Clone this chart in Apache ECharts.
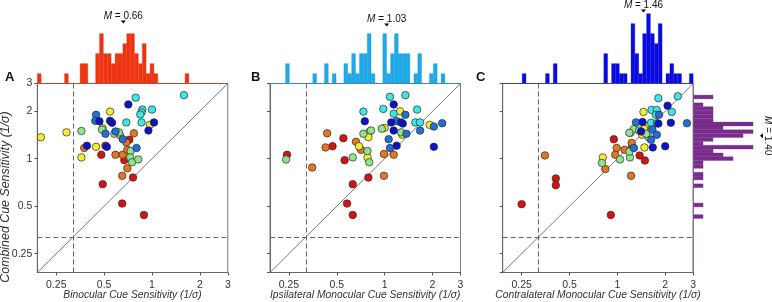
<!DOCTYPE html>
<html><head><meta charset="utf-8">
<script src="https://cdn.jsdelivr.net/npm/echarts@6/dist/echarts.min.js"></script>
<style>html,body{margin:0;padding:0;background:#fff}#c{width:772px;height:302px}</style>
</head><body><div id="c"></div>
<script>
// ---------- data ----------
const tickLabels = [0.25, 0.5, 1, 2, 3];
const axisMin = 0.19, axisMax = 3;
const chanceLevel = 0.32;
const groupColors = ['#d41414', '#e8761e', '#f4ee2e', '#92e38e', '#3ee6e6', '#2070d6', '#0c12c8'];

// Panel A: binocular (x) vs combined (y)
const binoRed = [[0.72,1.32],[0.51,1.21],[0.48,1.06],[0.67,0.98],[0.76,0.76],[0.49,0.69],[0.65,0.52],[0.89,0.44]];
const binoOrange = [[0.375,1.17],[0.59,1.06],[0.655,1.06],[0.70,1.14],[0.70,0.87],[0.65,0.78],[0.69,1.27],[0.77,1.45]];
const binoYellow = [[0.20,1.37],[0.29,1.47],[0.545,1.99],[0.36,1.02],[0.445,1.19],[0.49,1.56],[0.63,1.41],[0.97,1.64]];
const binoGreen = [[0.36,1.50],[0.485,1.53],[0.58,1.44],[0.62,1.47],[0.735,1.12],[0.73,1.02],[0.75,0.95],[0.82,0.99]];
const binoCyan = [[0.79,2.44],[1.59,2.53],[0.87,2.05],[0.86,1.97],[0.845,1.91],[1.0,2.05],[0.69,1.70],[0.86,1.70]];
const binoBlue = [[0.445,1.90],[0.44,1.74],[0.51,1.44],[0.59,1.49],[0.655,1.33],[0.80,1.17]];
const binoDarkBlue = [[0.467,1.73],[0.545,1.74],[0.561,1.69],[0.71,2.21],[1.03,1.70],[0.95,1.51],[0.39,1.21],[0.52,1.19]];

// Panel B: ipsilateral monocular (x) vs combined (y)
const ipsiRed = [[0.243,1.06],[0.47,1.20],[0.55,1.35],[0.56,0.98],[0.79,0.76],[0.63,0.69],[0.58,0.52],[0.63,0.44]];
const ipsiOrange = [[0.435,1.45],[0.425,1.18],[0.66,1.28],[0.71,1.14],[0.99,1.07],[1.14,1.06],[0.35,0.88],[0.99,0.78]];
const ipsiYellow = [[1.25,2.0],[1.0,1.57],[0.80,1.48],[0.79,1.37],[0.69,1.20],[0.78,1.02],[1.92,1.64],[1.29,1.42]];
const ipsiGreen = [[0.24,0.99],[0.735,1.44],[0.82,1.51],[0.96,1.55],[1.27,1.47],[0.78,1.12],[0.63,1.02],[0.80,0.95]];
const ipsiCyan = [[1.08,2.47],[1.35,2.53],[0.98,2.07],[0.735,1.99],[1.14,1.93],[1.60,2.05],[1.56,1.70],[1.67,1.70]];
const ipsiBlue = [[1.35,1.90],[1.19,1.73],[1.06,1.33],[1.37,1.44],[1.67,1.51],[2.04,1.60],[2.30,1.68],[1.08,1.17]];
const ipsiDarkBlue = [[1.14,2.21],[0.75,1.73],[1.10,1.70],[1.27,1.70],[1.30,1.67],[1.14,1.51],[1.19,1.21],[2.04,1.19]];

// Panel C: contralateral monocular (x) vs combined (y)
const contraRed = [[0.95,1.33],[1.24,1.19],[1.38,1.05],[1.49,0.975],[0.41,0.75],[0.41,0.68],[0.25,0.515],[0.91,0.44]];
const contraOrange = [[0.35,1.05],[0.99,1.17],[0.97,1.06],[1.11,1.14],[1.23,1.26],[0.84,0.86],[1.22,0.78],[1.49,1.43]];
const contraYellow = [[1.46,1.98],[1.21,1.46],[1.50,1.61],[1.43,1.42],[1.58,1.36],[1.48,1.18],[0.81,1.02],[1.47,1.55]];
const contraGreen = [[1.27,1.54],[1.19,1.46],[0.80,0.94],[1.04,0.99],[1.20,1.02],[1.19,1.11],[1.52,1.44],[1.37,1.51]];
const contraCyan = [[2.40,2.49],[1.81,2.42],[1.64,2.04],[1.77,2.04],[2.20,1.98],[1.63,1.69],[1.77,1.68],[1.75,1.90]];
const contraBlue = [[1.31,1.70],[2.74,1.68],[1.66,1.53],[1.77,1.42],[1.63,1.32],[1.27,1.17],[1.83,1.90]];
const contraDarkBlue = [[2.07,2.17],[1.44,1.71],[1.81,1.67],[2.17,1.69],[1.41,1.49],[1.67,1.18],[2.0,1.20]];

// Histogram counts (49 log-spaced bins from axis min upward)
const histBinocular = [1,0,0,0,0,0,0,1,0,0, 0,2,2,0,0,3,5,3,3,2, 3,3,4,5,5,3,2,4,1,2, 1,0,0,0,0,0,0,0,1,0, 0,0,0,0,0,0,0,0,0];
const histIpsi      = [0,0,0,0,2,0,0,0,0,0, 0,1,0,0,2,0,1,0,0,2, 1,3,1,3,3,5,1,0,0,5, 1,3,5,3,3,3,0,1,3,0, 0,1,2,0,1,0,0,0,0];
const histContra    = [0,0,0,0,0,1,0,0,0,0, 0,1,0,2,0,0,0,0,0,0, 0,0,0,0,0,0,3,0,2,2, 1,1,0,6,3,1,5,7,5,4, 6,0,1,2,1,1,0,0,1];
// combined histogram, bins listed from the top (axis max) downward
const histCombined  = [0,0,0,2,0,1,2,2,2,2, 6,3,6,5,2,1,6,2,3,4, 1,1,0,1,1,0,1,0,0,0, 0,1,0,0,1,0,0,0,0,0, 0,0,0,0,0,0,0,0,0];

const meanBinocular = 0.66, meanIpsi = 1.03, meanContra = 1.46, meanCombined = 1.40;

const xNames = ['Binocular Cue Sensitivity (1/σ)', 'Ipsilateral Monocular Cue Sensitivity (1/σ)', 'Contralateral Monocular Cue Sensitivity (1/σ)'];
const yName = 'Combined Cue Sensitivity (1/σ)';
const panelLetters = ['A', 'B', 'C'];

// ---------- layout ----------
const FONT = '"Liberation Sans", Arial, Helvetica, sans-serif';
const LEFTS = [37.3, 270, 502.7];
const PLOT_TOP = 83.5, PLOT_W = 190.5, PLOT_H = 189;
const HIST_H = 70;
const NBINS = histBinocular.length;
const histColors = [['#f0340f', '#c82c0c'], ['#1eaaea', '#1890c8'], ['#0a0ae2', '#0606b8']];
const combColor = ['#7b2d8e', '#64227a'];

const panels = [
  { groups: [binoRed, binoOrange, binoYellow, binoGreen, binoCyan, binoBlue, binoDarkBlue], hist: histBinocular, mean: meanBinocular },
  { groups: [ipsiRed, ipsiOrange, ipsiYellow, ipsiGreen, ipsiCyan, ipsiBlue, ipsiDarkBlue], hist: histIpsi, mean: meanIpsi },
  { groups: [contraRed, contraOrange, contraYellow, contraGreen, contraCyan, contraBlue, contraDarkBlue], hist: histContra, mean: meanContra }
];

const fmt = v => { const t = tickLabels.find(t => Math.abs(t - v) / t < 0.01); return t === undefined ? '' : String(t); };
const bins = histBinocular.map((_, i) => i);
const G = (o) => Object.assign({ containLabel: false, outerBoundsMode: 'none' }, o);

const grid = [], xAxis = [], yAxis = [], series = [];
panels.forEach((p, i) => {
  grid.push(G({ left: LEFTS[i], top: PLOT_TOP, width: PLOT_W, height: PLOT_H, show: true, borderColor: '#777', borderWidth: 1 }));
  xAxis.push({
    type: 'log', logBase: 2, min: axisMin, max: axisMax, gridIndex: i,
    axisLine: { show: true, lineStyle: { color: '#666', width: 1 } },
    axisTick: { show: true, length: 3, lineStyle: { color: '#555' } },
    axisLabel: { fontSize: 10.5, color: '#333', fontFamily: FONT, margin: 7, showMinLabel: false, formatter: fmt },
    splitLine: { show: false },
    name: xNames[i], nameLocation: 'middle', nameGap: 18, nameMoveOverlap: false,
    nameTextStyle: { fontStyle: 'italic', fontSize: 10.3, color: '#333', fontFamily: FONT }
  });
  yAxis.push({
    type: 'log', logBase: 2, min: axisMin, max: axisMax, gridIndex: i,
    axisLine: { show: true, lineStyle: { color: '#666', width: 1 } },
    axisTick: { show: true, length: 3, lineStyle: { color: '#555' } },
    axisLabel: { show: i === 0, fontSize: 10.5, color: '#333', fontFamily: FONT, margin: 5, showMinLabel: false, formatter: fmt },
    splitLine: { show: false }
  });
  series.push({
    type: 'line', xAxisIndex: i, yAxisIndex: i, data: [[axisMin, axisMin], [axisMax, axisMax]],
    symbol: 'none', silent: true, z: 1, lineStyle: { color: '#555', width: 0.8 },
    markLine: { silent: true, symbol: 'none', label: { show: false },
      lineStyle: { color: '#666', type: [5, 3], width: 1 },
      data: [{ xAxis: chanceLevel }, { yAxis: chanceLevel }] }
  });
  p.groups.forEach((g, k) => series.push({
    type: 'scatter', xAxisIndex: i, yAxisIndex: i, data: g, symbolSize: 7.5, z: 3,
    itemStyle: { color: groupColors[k], borderColor: '#2a2a2a', borderWidth: 0.7, opacity: 1 }
  }));
});
// top histograms
panels.forEach((p, i) => {
  const gi = grid.length;
  grid.push(G({ left: LEFTS[i], top: PLOT_TOP - HIST_H, width: PLOT_W, height: HIST_H }));
  xAxis.push({ type: 'category', data: bins, gridIndex: gi, show: false, boundaryGap: true });
  yAxis.push({ type: 'value', min: 0, max: 7, gridIndex: gi, show: false });
  series.push({ type: 'bar', xAxisIndex: gi, yAxisIndex: gi, data: p.hist, barWidth: PLOT_W / NBINS + 0.2,
    itemStyle: { color: histColors[i][0], borderColor: histColors[i][1], borderWidth: 0.3 }, silent: true });
});
// right histogram (combined)
{
  const gi = grid.length;
  grid.push(G({ left: LEFTS[2] + PLOT_W, top: PLOT_TOP, width: 60, height: PLOT_H }));
  xAxis.push({ type: 'value', min: 0, max: 6, gridIndex: gi, show: false });
  yAxis.push({ type: 'category', data: bins, inverse: true, gridIndex: gi, show: false, boundaryGap: true });
  series.push({ type: 'bar', xAxisIndex: gi, yAxisIndex: gi, data: histCombined, barWidth: PLOT_H / NBINS + 0.2,
    itemStyle: { color: combColor[0], borderColor: combColor[1], borderWidth: 0.3 }, silent: true });
}

const chart = echarts.init(document.getElementById('c'), null, { renderer: 'canvas' });
chart.setOption({ animation: false, backgroundColor: '#fff', textStyle: { fontFamily: FONT }, grid, xAxis, yAxis, series });

// annotations: axis title, panel letters and mean markers
const elements = [];
elements.push({ type: 'text', x: 6, y: 197, rotation: Math.PI / 2,
  style: { text: yName, font: 'italic 12.4px ' + FONT, fill: '#333', align: 'center', textAlign: 'center', verticalAlign: 'middle', textVerticalAlign: 'middle' } });
const labelY = [16, 19, 5];
const letterX = [5, 251, 476];
panelLetters.forEach((L, i) => elements.push({ type: 'text', x: letterX[i], y: 77,
  style: { text: L, font: 'bold 13px ' + FONT, fill: '#111', align: 'left', textAlign: 'left', verticalAlign: 'middle', textVerticalAlign: 'middle' } }));
const meanText = v => ({ text: '{m|M} = ' + v.toFixed(2), font: '10px ' + FONT, fill: '#111',
  rich: { m: { fontStyle: 'italic', fontSize: 10, fontFamily: FONT, fill: '#111' } } });
panels.forEach((p, i) => {
  const px = chart.convertToPixel({ gridIndex: i }, [p.mean, 1])[0];
  const ty = labelY[i];
  elements.push({ type: 'text', x: px, y: ty, style: Object.assign(meanText(p.mean), { align: 'center', textAlign: 'center', verticalAlign: 'middle', textVerticalAlign: 'middle' }) });
  elements.push({ type: 'polygon', shape: { points: [[px - 2.5, ty + 4.5], [px + 2.5, ty + 4.5], [px, ty + 7.5]] }, style: { fill: '#000' } });
});
{
  const py = chart.convertToPixel({ gridIndex: 2 }, [1, meanCombined])[1];
  elements.push({ type: 'text', x: 768, y: py, rotation: -Math.PI / 2,
    style: Object.assign(meanText(meanCombined), { align: 'center', textAlign: 'center', verticalAlign: 'middle', textVerticalAlign: 'middle' }) });
  elements.push({ type: 'polygon', shape: { points: [[760, py], [763, py - 2.5], [763, py + 2.5]] }, style: { fill: '#000' } });
}
chart.setOption({ graphic: { elements } });
</script>
</body></html>
